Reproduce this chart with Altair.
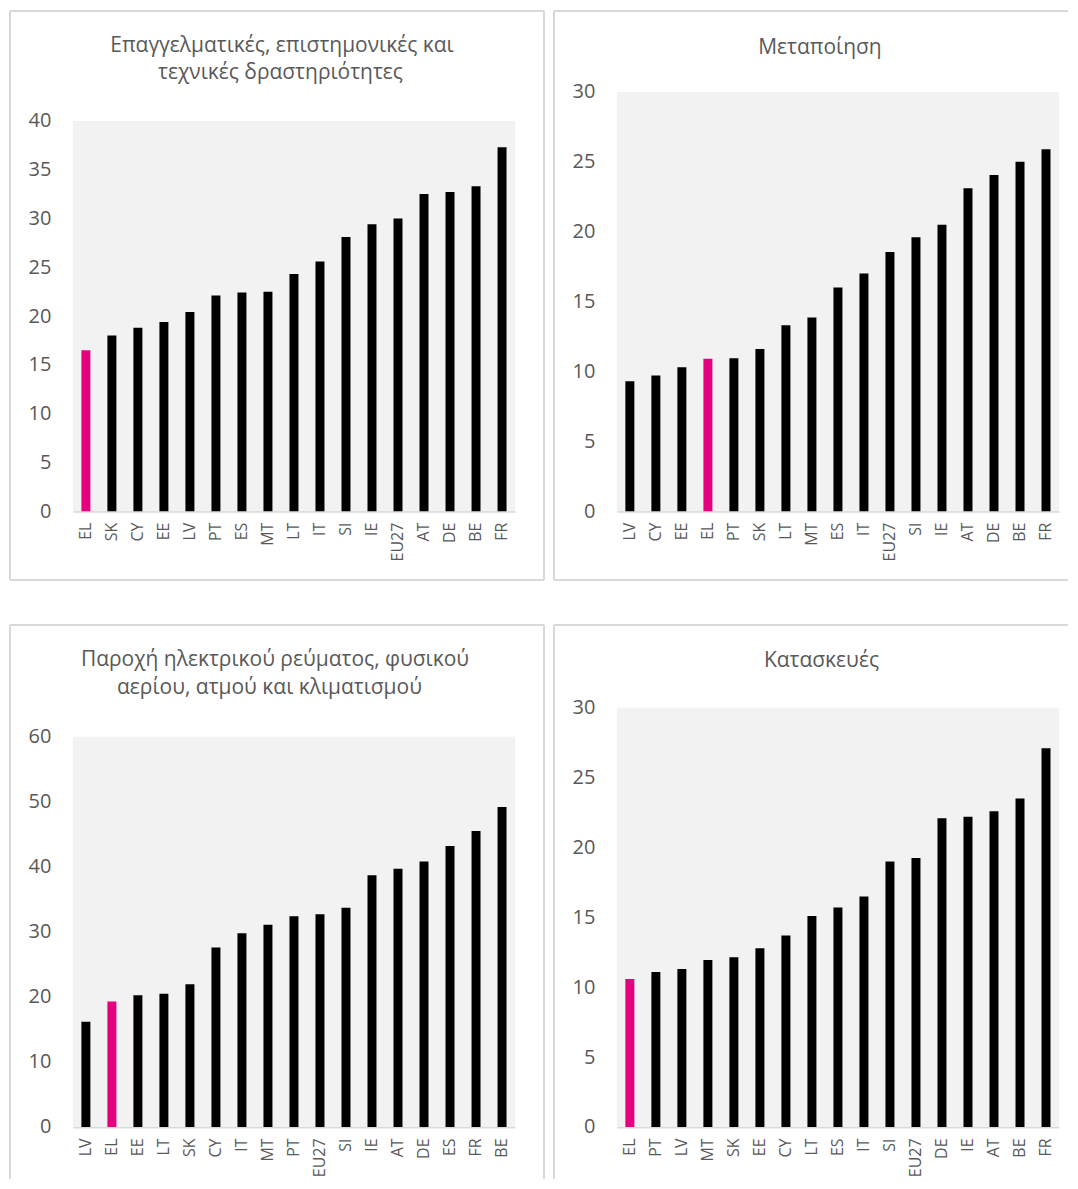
import altair as alt
import pandas as pd

FONT = "Open Sans"
TEXT = "#595959"
FRAME = "#d9d9d9"
BG = "#f2f2f2"
MAGENTA = "#e6007e"
HILITE = "EL"

# ---- Panel 1: Professional, scientific and technical activities
p1_title = ["Επαγγελματικές, επιστημονικές και", "τεχνικές δραστηριότητες"]
p1_cats = ["EL", "SK", "CY", "EE", "LV", "PT", "ES", "MT", "LT", "IT", "SI", "IE", "EU27", "AT", "DE", "BE", "FR"]
p1_vals = [16.5, 18.0, 18.8, 19.4, 20.4, 22.1, 22.4, 22.5, 24.3, 25.6, 28.1, 29.4, 30.0, 32.5, 32.7, 33.3, 37.3]
p1_ticks = [0, 5, 10, 15, 20, 25, 30, 35, 40]

# ---- Panel 2: Manufacturing
p2_title = ["Μεταποίηση"]
p2_cats = ["LV", "CY", "EE", "EL", "PT", "SK", "LT", "MT", "ES", "IT", "EU27", "SI", "IE", "AT", "DE", "BE", "FR"]
p2_vals = [9.3, 9.7, 10.3, 10.9, 10.95, 11.6, 13.3, 13.85, 16.0, 17.0, 18.55, 19.6, 20.5, 23.1, 24.05, 25.0, 25.9]
p2_ticks = [0, 5, 10, 15, 20, 25, 30]

# ---- Panel 3: Electricity, gas, steam and air conditioning supply
p3_title = ["Παροχή ηλεκτρικού ρεύματος, φυσικού", "αερίου, ατμού και κλιματισμού"]
p3_cats = ["LV", "EL", "EE", "LT", "SK", "CY", "IT", "MT", "PT", "EU27", "SI", "IE", "AT", "DE", "ES", "FR", "BE"]
p3_vals = [16.2, 19.3, 20.25, 20.5, 21.95, 27.6, 29.8, 31.1, 32.4, 32.7, 33.7, 38.7, 39.7, 40.8, 43.2, 45.5, 49.2]
p3_ticks = [0, 10, 20, 30, 40, 50, 60]

# ---- Panel 4: Construction
p4_title = ["Κατασκευές"]
p4_cats = ["EL", "PT", "LV", "MT", "SK", "EE", "CY", "LT", "ES", "IT", "SI", "EU27", "DE", "IE", "AT", "BE", "FR"]
p4_vals = [10.6, 11.1, 11.3, 11.95, 12.15, 12.8, 13.7, 15.1, 15.7, 16.5, 19.0, 19.25, 22.1, 22.2, 22.6, 23.5, 27.1]
p4_ticks = [0, 5, 10, 15, 20, 25, 30]

W = 443
H = 420
ONE = alt.Data(values=[{"k": 0}])


def frame(xl, xr, yt, yb, right=True, bottom=True):
    rules = [
        alt.Chart(ONE).mark_rule(color=FRAME, strokeWidth=2).encode(
            x=alt.value(xl), y=alt.value(yt), y2=alt.value(yb)),
        alt.Chart(ONE).mark_rule(color=FRAME, strokeWidth=2).encode(
            x=alt.value(xl), x2=alt.value(xr), y=alt.value(yt)),
    ]
    if right:
        rules.append(alt.Chart(ONE).mark_rule(color=FRAME, strokeWidth=2).encode(
            x=alt.value(xr), y=alt.value(yt), y2=alt.value(yb)))
    if bottom:
        rules.append(alt.Chart(ONE).mark_rule(color=FRAME, strokeWidth=2).encode(
            x=alt.value(xl), x2=alt.value(xr), y=alt.value(yb)))
    return rules


def panel(title_lines, title_pos, cats, vals, ticks, ytop, frame_rules):
    df = pd.DataFrame({"c": cats, "v": vals})
    bg = alt.Chart(ONE).mark_rect(color=BG).encode(
        x=alt.value(0), x2=alt.value(W), y=alt.value(ytop), y2=alt.value(H))
    bars = alt.Chart(df).mark_bar(size=9).encode(
        x=alt.X("c:N", sort=cats, title=None,
                scale=alt.Scale(paddingInner=0, paddingOuter=0),
                axis=alt.Axis(labelAngle=270, labelFontSize=16, labelColor=TEXT,
                              labelFont=FONT, domainColor=FRAME, domainWidth=2,
                              ticks=False, labelPadding=11, grid=False)),
        y=alt.Y("v:Q", title=None,
                scale=alt.Scale(domain=[ticks[0], ticks[-1]], range=[H, ytop], nice=False),
                axis=alt.Axis(values=ticks, labelFontSize=20, labelColor=TEXT,
                              labelFont=FONT, domain=False, ticks=False,
                              labelPadding=22, grid=False)),
        color=alt.condition(alt.datum.c == HILITE, alt.value(MAGENTA), alt.value("#000000")),
    )
    texts = []
    for line, (cx, by) in zip(title_lines, title_pos):
        texts.append(alt.Chart(ONE).mark_text(
            font=FONT, fontSize=21, color=TEXT, align="center", baseline="alphabetic"
        ).encode(x=alt.value(cx), y=alt.value(by), text=alt.value(line)))
    return alt.layer(*frame_rules, bg, bars, *texts).properties(width=W, height=H)


p1 = panel(p1_title, [(209.5, -40), (208, -12.5)], p1_cats, p1_vals, p1_ticks, 29,
           frame(-63, 472, -81, 489))
p2 = panel(p2_title, [(203.5, -38.5)], p2_cats, p2_vals, p2_ticks, 0,
           frame(-63, 452, -81, 489, right=False))
p3 = panel(p3_title, [(202.5, -42), (197, -13.5)], p3_cats, p3_vals, p3_ticks, 29,
           frame(-63, 472, -83, 472, bottom=False))
p4 = panel(p4_title, [(205, -41)], p4_cats, p4_vals, p4_ticks, 0,
           frame(-63, 452, -83, 472, right=False, bottom=False))

row1 = alt.hconcat(p1, p2, spacing=6)
row2 = alt.hconcat(p3, p4, spacing=6)

chart = alt.vconcat(row1, row2, spacing=41).properties(
    padding=0, background="white"
).configure_view(stroke="transparent", fill="transparent")

chart.save("out.html", embed_options={"renderer": "svg", "actions": False})
